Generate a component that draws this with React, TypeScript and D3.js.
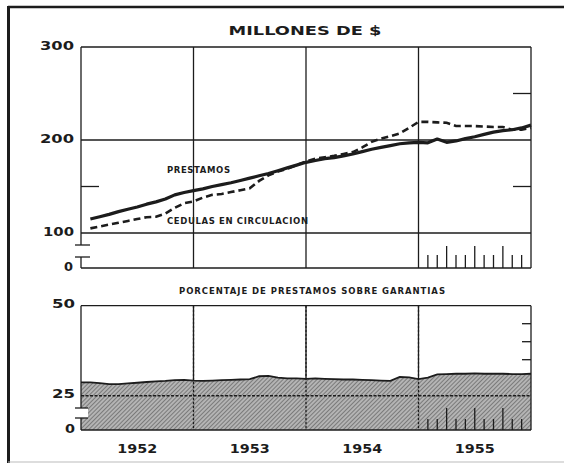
import * as d3 from "d3";

// valores mensuales (fin de mes, ene 1952 - dic 1955)
const YEARS = ["1952", "1953", "1954", "1955"];

const PRESTAMOS = [
  115, 117.5, 120, 123, 125.5, 128, 131, 133.5, 136.5, 141, 143.5, 145.5,
  147.5, 150, 152, 154, 156.5, 159, 161.5, 164, 167, 170, 173, 176,
  178, 180, 181, 183, 185, 187.5, 190, 192, 194, 196, 197, 197.5,
  197, 201, 197.5, 199, 201.5, 203.5, 206, 208.5, 210, 211, 213, 216,
];

const CEDULAS = [
  105, 107, 109, 111, 113, 115, 117, 117.5, 121, 127, 132, 134,
  138, 141, 142, 144, 146, 148, 156, 162, 166, 169, 173, 177,
  180, 181.5, 183, 185, 187, 192, 198, 201.5, 204, 207, 213, 219.5,
  219.5, 219, 218.5, 215, 215, 215, 214.5, 214, 214, 211, 211, 213,
];

// porcentaje, desde el inicio de 1952 (49 puntos)
const PORCENTAJE = [
  28.7, 28.7, 28.5, 28.2, 28.2, 28.4, 28.6, 28.8, 29.0, 29.1, 29.3, 29.4, 29.2,
  29.1, 29.2, 29.3, 29.4, 29.5, 29.6, 30.4, 30.5, 30.0, 29.8, 29.8, 29.7,
  29.8, 29.7, 29.6, 29.5, 29.5, 29.4, 29.3, 29.2, 29.1, 30.2, 30.1, 29.6,
  30.0, 30.9, 31.0, 31.1, 31.1, 31.2, 31.1, 31.1, 31.1, 31.0, 31.0, 31.1,
];

const TOP_TICKS = [
  { v: 300, label: "300", w: 34 },
  { v: 200, label: "200", w: 34 },
  { v: 100, label: "100", w: 31 },
  { v: 0, label: "0", w: 9 },
];
const TOP_MINOR_LEFT = [150];
const TOP_MINOR_RIGHT = [250, 150];
const BOTTOM_TICKS = [
  { v: 50, label: "50", w: 23 },
  { v: 25, label: "25", w: 23 },
  { v: 0, label: "0", w: 10 },
];
const BOTTOM_MINOR_RIGHT = [45, 40, 35];
const MONTH_TICKS = [37, 38, 39, 40, 41, 42, 43, 44, 45, 46, 47];
const QUARTER_TICKS = [39, 42, 45];

const W = 564;
const H = 466;
const LEFT = 81;
const RIGHT = 531;
const INK = "#1c1c1c";
const FONT = "'DejaVu Sans', sans-serif";

export default function App() {
  const x = d3.scaleLinear().domain([0, 48]).range([LEFT, RIGHT]);
  // escala con corte entre 0 y 100
  const yTop = d3.scaleLinear().domain([0, 100, 300]).range([268, 233, 47]);
  const yBot = d3.scaleLinear().domain([0, 25, 50]).range([430, 395.7, 305.7]);

  const line = d3
    .line<number>()
    .x((_, i) => x(i + 1))
    .y((d) => yTop(d));

  const area = d3
    .area<number>()
    .x((_, i) => x(i))
    .y0(yBot(0))
    .y1((d) => yBot(d));
  const areaTop = d3
    .line<number>()
    .x((_, i) => x(i))
    .y((d) => yBot(d));

  const yearBounds = [12, 24, 36];

  return (
    <div style={{ position: "absolute", left: 0, top: 0 }}>
      <svg width={W} height={H} style={{ display: "block", background: "#fff" }}>
        <defs>
          <pattern
            id="hatch"
            patternUnits="userSpaceOnUse"
            width={3}
            height={3}
            patternTransform="rotate(45)"
          >
            <rect width={3} height={3} fill="#b4b4b4" />
            <line x1={0} y1={0} x2={0} y2={3} stroke="#5a5a5a" strokeWidth={1.3} />
          </pattern>
        </defs>

        {/* marco */}
        <line x1={8} x2={W} y1={7} y2={7} stroke={INK} strokeWidth={2.5} />
        <line x1={8.5} x2={8.5} y1={6} y2={463} stroke={INK} strokeWidth={3} />
        <line x1={8} x2={W} y1={462} y2={462} stroke="#bbb" strokeWidth={1} />

        {/* ---------- panel superior ---------- */}
        <text x={305} y={31} fontFamily={FONT} fontWeight="bold" fontSize={12.5}
          textAnchor="middle" dominantBaseline="middle" fill={INK}
          textLength={153} lengthAdjust="spacingAndGlyphs">
          MILLONES DE $
        </text>

        <g stroke={INK} strokeWidth={1.3} fill="none">
          <line x1={LEFT} x2={RIGHT} y1={yTop(300)} y2={yTop(300)} />
          <line x1={LEFT} x2={RIGHT} y1={yTop(200)} y2={yTop(200)} />
          <line x1={LEFT} x2={RIGHT} y1={yTop(100)} y2={yTop(100)} />
          <line x1={LEFT} x2={RIGHT} y1={yTop(0)} y2={yTop(0)} />
          <line x1={RIGHT} x2={RIGHT} y1={yTop(300)} y2={yTop(0)} />
          <line x1={LEFT} x2={LEFT} y1={yTop(300)} y2={245} />
          <line x1={LEFT} x2={LEFT} y1={257} y2={yTop(0)} />
          <line x1={75} x2={90} y1={245} y2={245} />
          <line x1={75} x2={90} y1={257} y2={257} />
          {yearBounds.map((m) => (
            <line key={m} x1={x(m)} x2={x(m)} y1={yTop(300)} y2={yTop(0)} />
          ))}
          {TOP_MINOR_LEFT.map((v) => (
            <line key={"l" + v} x1={LEFT} x2={LEFT + 18} y1={yTop(v)} y2={yTop(v)} />
          ))}
          {TOP_MINOR_RIGHT.map((v) => (
            <line key={"r" + v} x1={RIGHT - 18} x2={RIGHT} y1={yTop(v)} y2={yTop(v)} />
          ))}
          {MONTH_TICKS.map((m) => (
            <line key={m} x1={x(m)} x2={x(m)} y1={yTop(0)}
              y2={yTop(0) - (QUARTER_TICKS.includes(m) ? 22 : 13)} />
          ))}
        </g>

        {TOP_TICKS.map((t) => (
          <text key={t.label} x={t.v === 0 ? 73 : 74} y={yTop(t.v) - 1}
            fontFamily={FONT} fontWeight="bold" fontSize={13} fill={INK}
            textAnchor="end" dominantBaseline="middle"
            textLength={t.w} lengthAdjust="spacingAndGlyphs">
            {t.label}
          </text>
        ))}

        <path d={line(CEDULAS) ?? ""} fill="none" stroke={INK} strokeWidth={2.6}
          strokeDasharray="7,4" />
        <path d={line(PRESTAMOS) ?? ""} fill="none" stroke={INK} strokeWidth={3.2}
          strokeLinejoin="round" />

        <text x={167} y={170} fontFamily={FONT} fontWeight="bold" fontSize={8.5}
          fill={INK} dominantBaseline="middle" textLength={63} lengthAdjust="spacing">
          PRESTAMOS
        </text>
        <text x={167} y={221} fontFamily={FONT} fontWeight="bold" fontSize={8.5}
          fill={INK} dominantBaseline="middle" textLength={141} lengthAdjust="spacing">
          CEDULAS EN CIRCULACION
        </text>

        {/* ---------- panel inferior ---------- */}
        <text x={312} y={291} fontFamily={FONT} fontWeight="bold" fontSize={8.5}
          textAnchor="middle" dominantBaseline="middle" fill={INK}
          textLength={266} lengthAdjust="spacing">
          PORCENTAJE DE PRESTAMOS SOBRE GARANTIAS
        </text>

        <g stroke={INK} strokeWidth={1.3}>
          {yearBounds.map((m) => (
            <line key={m} x1={x(m)} x2={x(m)} y1={yBot(50)} y2={yBot(0)} />
          ))}
        </g>

        <path d={area(PORCENTAJE) ?? ""} fill="url(#hatch)" />
        <path d={areaTop(PORCENTAJE) ?? ""} fill="none" stroke={INK} strokeWidth={1.8} />

        <g stroke={INK} strokeWidth={1.3} fill="none">
          <line x1={LEFT} x2={RIGHT} y1={yBot(50)} y2={yBot(50)} />
          <line x1={LEFT} x2={RIGHT} y1={yBot(0)} y2={yBot(0)} />
          <line x1={RIGHT} x2={RIGHT} y1={yBot(50)} y2={yBot(0)} />
          <line x1={LEFT} x2={RIGHT} y1={yBot(25)} y2={yBot(25)}
            strokeDasharray="3,1.5" strokeWidth={1.5} />
          {yearBounds.map((m) => (
            <line key={m} x1={x(m)} x2={x(m)} y1={yBot(50)} y2={yBot(0)}
              strokeDasharray="2.5,1.5" />
          ))}
          {BOTTOM_MINOR_RIGHT.map((v) => (
            <line key={v} x1={RIGHT - 9} x2={RIGHT} y1={yBot(v)} y2={yBot(v)} />
          ))}
          {MONTH_TICKS.map((m) => (
            <line key={m} x1={x(m)} x2={x(m)} y1={yBot(0)}
              y2={yBot(0) - (QUARTER_TICKS.includes(m) ? 22 : 11)} />
          ))}
        </g>

        {/* corte del eje */}
        <rect x={74} y={408} width={14} height={10} fill="#fff" />
        <g stroke={INK} strokeWidth={1.3}>
          <line x1={LEFT} x2={LEFT} y1={yBot(50)} y2={408} />
          <line x1={LEFT} x2={LEFT} y1={418} y2={yBot(0)} />
          <line x1={75} x2={88} y1={408} y2={408} />
          <line x1={75} x2={88} y1={418} y2={418} />
        </g>

        {BOTTOM_TICKS.map((t) => (
          <text key={t.label} x={75} y={yBot(t.v) - 1}
            fontFamily={FONT} fontWeight="bold" fontSize={13} fill={INK}
            textAnchor="end" dominantBaseline="middle"
            textLength={t.w} lengthAdjust="spacingAndGlyphs">
            {t.label}
          </text>
        ))}

        {YEARS.map((yr, i) => (
          <text key={yr} x={(x(i * 12) + x(i * 12 + 12)) / 2} y={449}
            fontFamily={FONT} fontWeight="bold" fontSize={12.5} fill={INK}
            textAnchor="middle" dominantBaseline="middle"
            textLength={40} lengthAdjust="spacingAndGlyphs">
            {yr}
          </text>
        ))}
      </svg>
    </div>
  );
}
